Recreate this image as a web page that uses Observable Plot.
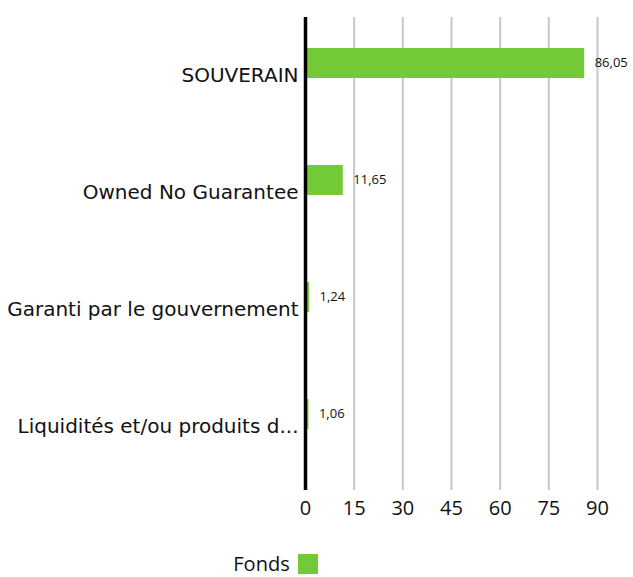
<!DOCTYPE html>
<html><head><meta charset="utf-8">
<script src="https://cdn.jsdelivr.net/npm/d3@7"></script>
<script src="https://cdn.jsdelivr.net/npm/@observablehq/plot@0.6"></script>
<style>
body{margin:0;background:#fff;font-family:"Open Sans", "Noto Sans", sans-serif;overflow:hidden;}
#legend{display:flex;justify-content:center;align-items:center;gap:8px;font-size:20px;line-height:20px;color:#111;margin-top:24px;margin-left:-82px;}
#legend span.sw{display:inline-block;width:20px;height:20px;background:#74c936;}
</style></head>
<body>
<div id="chart"></div>
<div id="legend"><span>Fonds</span><span class="sw"></span></div>
<script>
const categories = ["SOUVERAIN","Owned No Guarantee","Garanti par le gouvernement","Liquidités et/ou produits d..."];
const values = [86.05, 11.65, 1.24, 1.06];
const labels = ["86,05","11,65","1,24","1,06"];
const xTicks = [0,15,30,45,60,75,90];
const seriesName = "Fonds";

const data = categories.map((c,i)=>({cat:c, v:values[i], lab:labels[i]}));

const chart = Plot.plot({
  width: 633,
  height: 530,
  marginLeft: 305,
  marginRight: 36,
  marginTop: 17,
  marginBottom: 40,
  style:{fontFamily:"'Open Sans', 'Noto Sans', sans-serif", color:"#111", background:"#fff"},
  x:{domain:[0,90], ticks:xTicks, label:null},
  y:{domain:categories, paddingInner:0, paddingOuter:0.016, align:0, label:null},
  marks:[
    Plot.gridX(xTicks.filter(d=>d>0), {stroke:"#c8c8c8", strokeOpacity:1, strokeWidth:2}),
    Plot.barX(data, {x:"v", y:"cat", fill:"#74c936", insetTop:31, insetBottom:56}),
    Plot.ruleX([0], {stroke:"#000", strokeWidth:3.5}),
    Plot.text(data, {x:"v", y:"cat", text:"lab", textAnchor:"start", dx:10, dy:-13, fontSize:13, fill:"#111"}),
    Plot.axisX({ticks:xTicks, tickSize:0, tickPadding:10, fontSize:20, label:null, tickFormat:d=>String(d)}),
    Plot.axisY({tickSize:0, tickPadding:7, fontSize:20, label:null, fontFamily:"'DejaVu Sans', sans-serif"})
  ]
});
document.getElementById("chart").appendChild(chart);
</script>
</body></html>
